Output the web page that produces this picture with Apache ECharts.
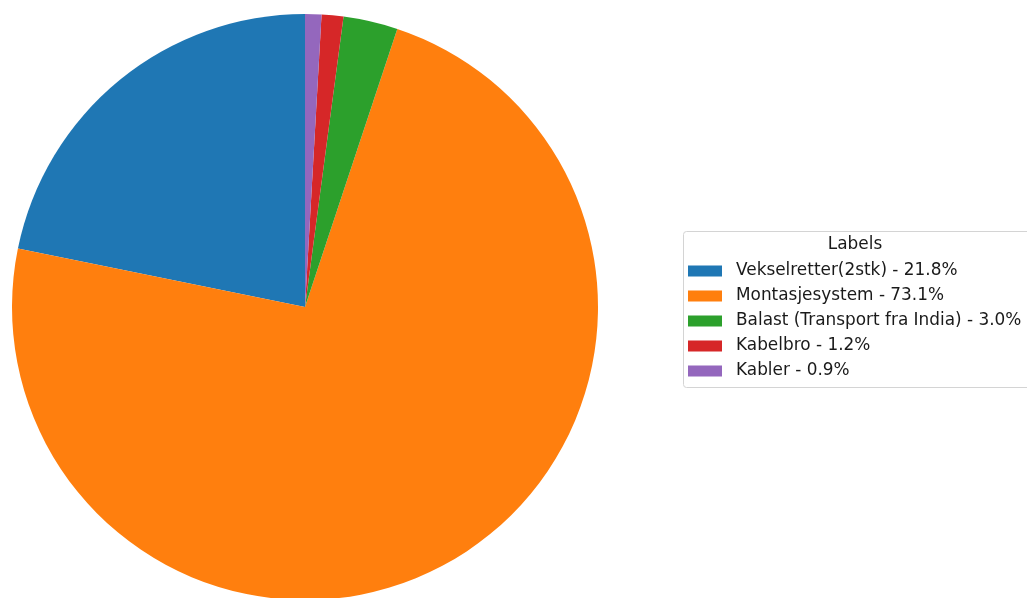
<!DOCTYPE html>
<html>
<head>
<meta charset="utf-8">
<script src="https://cdn.jsdelivr.net/npm/echarts@6/dist/echarts.min.js"></script>
<style>
  html, body { margin: 0; padding: 0; background: #ffffff; }
  #chart { width: 1027px; height: 598px; }
</style>
</head>
<body>
<div id="chart"></div>
<script>
// Cost breakdown, shares in percent
const labels = [
  'Vekselretter(2stk)',
  'Montasjesystem',
  'Balast (Transport fra India)',
  'Kabelbro',
  'Kabler'
];
const shares = [21.8, 73.1, 3.0, 1.2, 0.9];
const colors = ['#1f77b4', '#ff7f0e', '#2ca02c', '#d62728', '#9467bd'];
const legendTitle = 'Labels';

const FONT = 'DejaVu Sans';

const chart = echarts.init(document.getElementById('chart'), null, { renderer: 'canvas' });

const data = labels.map((name, i) => ({
  name: name,
  value: shares[i],
  itemStyle: { color: colors[i] }
}));

chart.setOption({
  animation: false,
  backgroundColor: '#ffffff',
  graphic: [
    {
      type: 'rect',
      shape: { x: 683.5, y: 231.5, width: 360, height: 156, r: 3 },
      style: { fill: '#ffffff', stroke: '#d4d4d4', lineWidth: 1 },
      z: 0
    },
    {
      type: 'text',
      x: 855,
      y: 245,
      style: {
        text: legendTitle,
        fontFamily: FONT,
        fontSize: 16.9,
        fill: '#1a1a1a',
        align: 'center',
        verticalAlign: 'middle'
      },
      z: 1
    }
  ],
  legend: {
    orient: 'vertical',
    left: 688,
    top: 261,
    padding: 0,
    itemGap: 5,
    itemWidth: 34,
    itemHeight: 11,
    icon: 'rect',
    selectedMode: false,
    data: labels,
    formatter: function (name) {
      const i = labels.indexOf(name);
      return name + ' - ' + shares[i].toFixed(1) + '%';
    },
    textStyle: {
      fontFamily: FONT,
      fontSize: 16.9,
      lineHeight: 20,
      color: '#1a1a1a',
      padding: [0, 0, 0, 9]
    },
    z: 2
  },
  series: [
    {
      type: 'pie',
      center: [305, 307],
      radius: 293,
      startAngle: 90,
      clockwise: false,
      silent: true,
      label: { show: false },
      labelLine: { show: false },
      itemStyle: { borderWidth: 0 },
      data: data
    }
  ]
});
</script>
</body>
</html>
